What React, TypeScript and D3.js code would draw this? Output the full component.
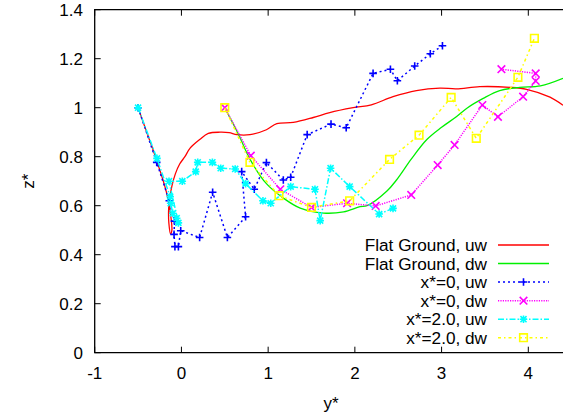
import React from "react";
import * as d3 from "d3";

type P = [number, number];

const xTicks = [-1, 0, 1, 2, 3, 4];
const yTicks = [0, 0.2, 0.4, 0.6, 0.8, 1, 1.2, 1.4];
const yTickLabels = ["0", "0.2", "0.4", "0.6", "0.8", "1", "1.2", "1.4"];

const flatUw: P[] = [
  [-0.5, 1.0], [-0.4, 0.9], [-0.3, 0.8], [-0.2, 0.69], [-0.15, 0.62], [-0.12, 0.55], [-0.11, 0.5],
  [-0.125, 0.485], [-0.145, 0.53], [-0.148, 0.58], [-0.14, 0.62], [-0.11, 0.68], [-0.07, 0.73],
  [-0.02, 0.77], [0.04, 0.8], [0.1, 0.835], [0.21, 0.87], [0.31, 0.895], [0.445, 0.9], [0.55, 0.898],
  [0.64, 0.89], [0.79, 0.89], [0.98, 0.91], [1.1, 0.935], [1.29, 0.94], [1.52, 0.96], [1.71, 0.98],
  [1.98, 1.0], [2.19, 1.012], [2.44, 1.045], [2.71, 1.07], [2.98, 1.08], [3.17, 1.077], [3.44, 1.086],
  [3.79, 1.083], [3.98, 1.075], [4.25, 1.043], [4.4, 1.01],
];

const flatDw: P[] = [
  [0.5, 1.0], [0.58, 0.945], [0.66, 0.89], [0.79, 0.79], [0.98, 0.69], [1.18, 0.63], [1.37, 0.59],
  [1.64, 0.57], [1.87, 0.575], [2.06, 0.596], [2.14, 0.6], [2.37, 0.66], [2.48, 0.705], [2.65, 0.79],
  [2.83, 0.87], [3.0, 0.92], [3.17, 0.963], [3.3, 1.0], [3.48, 1.038], [3.67, 1.07], [3.9, 1.083],
  [4.14, 1.089], [4.4, 1.12],
];

const x0Uw: P[] = [
  [-0.5, 1.0], [-0.285, 0.777], [-0.14, 0.62], [-0.08, 0.537], [-0.085, 0.483], [-0.075, 0.433],
  [-0.035, 0.433], [-0.008, 0.498], [0.21, 0.47], [0.36, 0.655], [0.53, 0.47], [0.74, 0.555],
  [0.695, 0.739], [0.84, 0.667], [0.98, 0.776], [1.175, 0.705], [1.26, 0.716], [1.45, 0.89],
  [1.725, 0.933], [1.9, 0.918], [2.21, 1.14], [2.41, 1.157], [2.49, 1.11], [2.69, 1.17],
  [2.87, 1.22], [3.01, 1.253],
];

const x0Dw: P[] = [
  [0.5, 1.0], [0.8, 0.804], [1.14, 0.667], [1.5, 0.593], [1.91, 0.61], [2.24, 0.599], [2.65, 0.644],
  [2.955, 0.766], [3.15, 0.848], [3.47, 1.011], [3.65, 0.963], [3.94, 1.045], [4.085, 1.109],
  [4.085, 1.14], [3.69, 1.157],
];

const x2Uw: P[] = [
  [-0.5, 1.0], [-0.282, 0.793], [-0.13, 0.637], [-0.124, 0.61], [-0.1, 0.569], [-0.055, 0.549],
  [-0.035, 0.53], [-0.143, 0.7], [0.01, 0.7], [0.165, 0.739], [0.188, 0.777], [0.357, 0.777],
  [0.453, 0.753], [0.62, 0.75], [0.74, 0.69], [0.94, 0.62], [1.03, 0.61], [1.26, 0.678],
  [1.54, 0.667], [1.6, 0.539], [1.72, 0.753], [1.94, 0.678], [2.28, 0.566], [2.44, 0.589],
];

const x2Dw: P[] = [
  [0.5, 1.0], [0.79, 0.777], [1.125, 0.641], [1.5, 0.593], [1.94, 0.62], [2.4, 0.789], [2.74, 0.888],
  [3.11, 1.042], [3.4, 0.875], [3.88, 1.124], [4.07, 1.283],
];

type Series = {
  name: string;
  data: P[];
  color: string;
  dash: string | null;
  marker: string | null;
  smooth: boolean;
};

const series: Series[] = [
  { name: "Flat Ground, uw", data: flatUw, color: "#ff0000", dash: null, marker: null, smooth: true },
  { name: "Flat Ground, dw", data: flatDw, color: "#00f000", dash: null, marker: null, smooth: true },
  { name: "x*=0, uw", data: x0Uw, color: "#0000ff", dash: "2,3", marker: "plus", smooth: false },
  { name: "x*=0, dw", data: x0Dw, color: "#ff00ff", dash: "1.2,1.2", marker: "cross", smooth: false },
  { name: "x*=2.0, uw", data: x2Uw, color: "#00ffff", dash: "6,2,1.5,2", marker: "star", smooth: false },
  { name: "x*=2.0, dw", data: x2Dw, color: "#ffff00", dash: "3,3,1.5,3", marker: "square", smooth: false },
];

const W = 563;
const H = 417;
const left = 94.7;
const right = 563;
const top = 9.7;
const bottom = 352.7;
const FONT = "'Liberation Sans', Arial, sans-serif";
const FS = 17;
const LFS = 17.2;

function markerPath(kind: string): string {
  const s = 3.8;
  if (kind === "plus") return `M${-s},0H${s}M0,${-s}V${s}`;
  if (kind === "cross") return `M${-s},${-s}L${s},${s}M${-s},${s}L${s},${-s}`;
  if (kind === "star")
    return `M${-s},0H${s}M0,${-s}V${s}M${-s * 0.8},${-s * 0.8}L${s * 0.8},${s * 0.8}M${-s * 0.8},${s * 0.8}L${s * 0.8},${-s * 0.8}`;
  return `M${-s},${-s}H${s}V${s}H${-s}Z`;
}

export default function App() {
  const x = d3.scaleLinear().domain([-1, 4.4]).range([left, right]);
  const y = d3.scaleLinear().domain([0, 1.4]).range([bottom, top]);

  const legendRows = [245, 263.5, 282, 300.7, 319.2, 337.7];
  const legTextX = 487;
  const legL = 498;
  const legR = 549;

  return (
    <svg width={W} height={H} style={{ position: "absolute", left: 0, top: 0, background: "#fff" }}>
      <defs>
        <clipPath id="plotclip">
          <rect x={left} y={top} width={right - left} height={bottom - top} />
        </clipPath>
      </defs>
      <rect x={0} y={0} width={W} height={H} fill="#fff" />
      {xTicks.map((t) => (
        <g key={"xt" + t}>
          <line x1={x(t)} x2={x(t)} y1={bottom} y2={bottom - 6} stroke="#000" />
          <line x1={x(t)} x2={x(t)} y1={top} y2={top + 6} stroke="#000" />
          <text x={x(t)} y={bottom + 26} textAnchor="middle" fontFamily={FONT} fontSize={FS} fill="#000">
            {String(t)}
          </text>
        </g>
      ))}
      {yTicks.map((t, i) => (
        <g key={"yt" + t}>
          <line x1={left} x2={left + 6} y1={y(t)} y2={y(t)} stroke="#000" />
          <text x={83} y={y(t) + 6} textAnchor="end" fontFamily={FONT} fontSize={FS} fill="#000">
            {yTickLabels[i]}
          </text>
        </g>
      ))}
      <g clipPath="url(#plotclip)">
        {series.map((s) => {
          const line = d3
            .line<P>()
            .x((d) => x(d[0]))
            .y((d) => y(d[1]))
            .curve(s.smooth ? d3.curveCatmullRom.alpha(0.5) : d3.curveLinear);
          return (
            <g key={s.name}>
              <path
                d={line(s.data) || ""}
                fill="none"
                stroke={s.color}
                strokeWidth={s.dash ? 1.5 : 1.3}
                strokeDasharray={s.dash || undefined}
              />
              {s.marker &&
                s.data.map((d, i) => (
                  <path
                    key={i}
                    d={markerPath(s.marker as string)}
                    transform={`translate(${x(d[0])},${y(d[1])})`}
                    fill="none"
                    stroke={s.color}
                    strokeWidth={1.6}
                  />
                ))}
            </g>
          );
        })}
      </g>
      <path d={`M${right + 2},${top}H${left}V${bottom}H${right + 2}`} fill="none" stroke="#000" strokeWidth={1.3} />
      {series.map((s, i) => (
        <g key={"lg" + s.name}>
          <text x={legTextX} y={legendRows[i] + 6} textAnchor="end" fontFamily={FONT} fontSize={LFS} fill="#000">
            {s.name}
          </text>
          <line
            x1={legL}
            x2={legR}
            y1={legendRows[i]}
            y2={legendRows[i]}
            stroke={s.color}
            strokeWidth={s.dash ? 1.5 : 1.3}
            strokeDasharray={s.dash || undefined}
          />
          {s.marker && (
            <path
              d={markerPath(s.marker)}
              transform={`translate(${(legL + legR) / 2},${legendRows[i]})`}
              fill="none"
              stroke={s.color}
              strokeWidth={1.6}
            />
          )}
        </g>
      ))}
      <text x={331} y={409} textAnchor="middle" fontFamily={FONT} fontSize={FS} fill="#000">
        y*
      </text>
      <text
        transform={`translate(34,${(top + bottom) / 2}) rotate(-90)`}
        textAnchor="middle"
        fontFamily={FONT}
        fontSize={FS}
        fill="#000"
      >
        z*
      </text>
    </svg>
  );
}
